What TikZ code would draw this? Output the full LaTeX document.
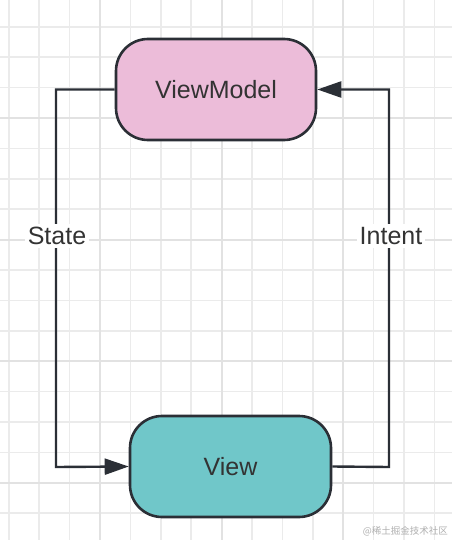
\documentclass[tikz,border=0pt]{standalone}
\usepackage{fontspec}
\setmainfont{Liberation Sans}
\newfontfamily\cjkfont{Noto Sans CJK SC}
\usetikzlibrary{arrows.meta}
\definecolor{gridminor}{HTML}{EBEBEB}
\definecolor{gridmajor}{HTML}{E2E2E2}
\definecolor{edgecol}{HTML}{2B2F36}
\definecolor{textcol}{HTML}{333333}
\definecolor{vmfill}{HTML}{ECBCD9}
\definecolor{vfill}{HTML}{70C7C9}
\definecolor{wmcol}{HTML}{B0B0B0}
\tikzset{
  pill/.style={draw=edgecol, line width=2.6pt, rounded corners=32pt,
    minimum width=200pt, minimum height=101pt, inner sep=0pt,
    text=textcol, font=\fontsize{25}{30}\selectfont},
  conn/.style={draw=edgecol, line width=2.4pt,
    -{Triangle[length=24pt,width=16pt]}},
  edgelabel/.style={fill=white, text=textcol, inner sep=3pt,
    font=\fontsize{25}{30}\selectfont}
}
\begin{document}
\begin{tikzpicture}[x=1pt,y=-1pt]
\useasboundingbox (0,0) rectangle (452,540);
\fill[white] (0,0) rectangle (452,540);
% grid
\foreach \k in {-3,...,11}{
  \pgfmathsetmacro{\gx}{100+\k*30.4}
  \draw[gridminor, line width=1.5pt] (\gx,0) -- (\gx,540);
}
\foreach \k in {-3,...,13}{
  \pgfmathsetmacro{\gy}{118+\k*30.4}
  \draw[gridminor, line width=1.5pt] (0,\gy) -- (452,\gy);
}
\foreach \k in {0,4,8}{
  \pgfmathsetmacro{\gx}{100+\k*30.4}
  \draw[gridmajor, line width=2pt] (\gx,0) -- (\gx,540);
}
\foreach \k in {0,4,8,12}{
  \pgfmathsetmacro{\gy}{118+\k*30.4}
  \draw[gridmajor, line width=2pt] (0,\gy) -- (452,\gy);
}
% nodes
\node[pill, fill=vmfill] (vm) at (216,89.5) {ViewModel};
\node[pill, fill=vfill, minimum width=201pt] (v) at (230.5,466.5) {View};
% connectors
\coordinate (lt) at (56,89.5);
\coordinate (lb) at (56,467);
\coordinate (rb) at (389,467);
\coordinate (rt) at (389,89.5);
\draw[conn] (vm.west) -- (lt) -- (lb) -- (v.west);
\draw[conn] (v.east) -- (rb) -- (rt) -- (vm.east);
\node[edgelabel] (state) at (57,236) {State};
\node[edgelabel] (intent) at (391,236) {Intent};
% watermark
\node[text=wmcol, font=\cjkfont\fontsize{9.5}{11}\selectfont, anchor=east, inner sep=0pt] (wm) at (448,531) {@稀土掘金技术社区};
\end{tikzpicture}
\end{document}
